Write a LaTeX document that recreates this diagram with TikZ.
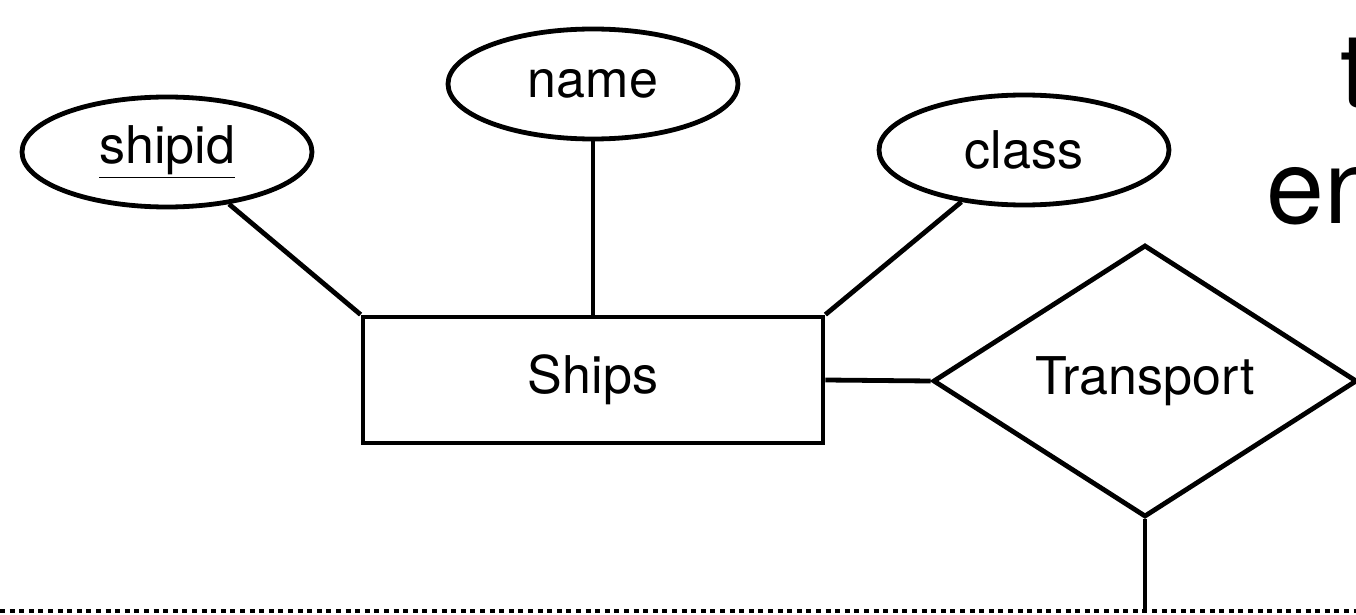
\documentclass[tikz,border=0pt]{standalone}
\usepackage{fontspec}
\setmainfont{TeX Gyre Heros}
\usetikzlibrary{shapes.geometric}

\begin{document}
\begin{tikzpicture}[x=0.5pt,y=-0.5pt,
        every node/.style={font=\fontsize{26}{31}\selectfont},
        attr/.style={draw,ellipse,line width=2.4pt,minimum width=145pt,minimum height=55pt,inner sep=0pt},
        entity/.style={draw,rectangle,line width=2.4pt,minimum width=230pt,minimum height=63pt},
        rel/.style={draw,diamond,line width=2.4pt,minimum width=212pt,minimum height=136pt,inner sep=0pt},
        link/.style={line width=2.4pt},
        bigtext/.style={font=\fontsize{52}{60}\selectfont,inner sep=0pt,anchor=base west}]
        \useasboundingbox (0,0) rectangle (1356,615);
        \clip (0,0) rectangle (1356,615);

        \node[entity] (ships) at (593,380) {Ships};
        \node[attr] (shipid) at (167,152) {\underline{shipid}};
        \node[attr] (name) at (593,84) {name};
        \node[attr] (class) at (1024,150) {class};
        \node[rel,label=center:Transport] (transport) at (1145,381) {};

        \draw[link] (shipid) -- (ships.north west);
        \draw[link] (name) -- (ships.north);
        \draw[link] (class) -- (ships.north east);
        \draw[link] (ships.east) -- (transport.west);

        \coordinate (bottom) at (1145,611);
        \draw[link] (transport.south) -- (bottom);
        \draw[line width=2pt,dash pattern=on 2.5pt off 2.3pt] (0,611) -- (1356,611);

        \node[bigtext] (topline) at (1340,108) {t};
        \node[bigtext] (bottomline) at (1266,223) {en};
    \end{tikzpicture}
\end{document}
